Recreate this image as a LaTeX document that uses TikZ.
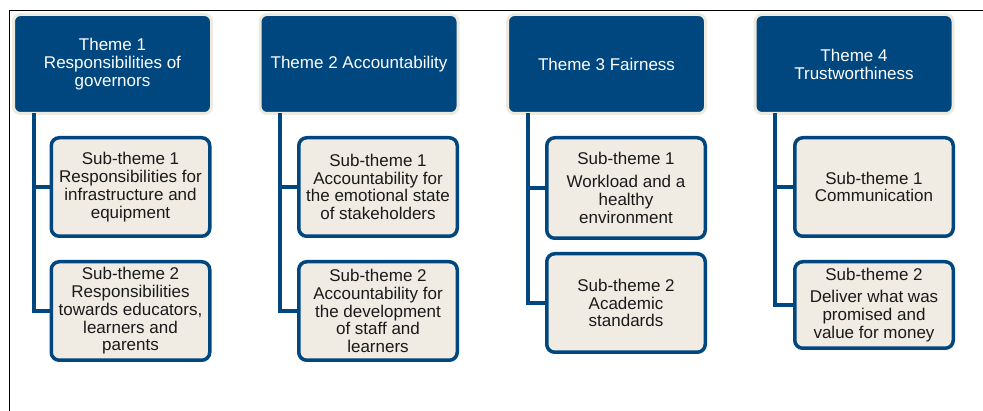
\documentclass[tikz,border=0pt]{standalone}
\usepackage{fontspec}
\setmainfont{Liberation Sans}
\usetikzlibrary{calc}
\definecolor{navy}{HTML}{00467F}
\definecolor{creamfill}{HTML}{F0ECE4}
\definecolor{creamedge}{HTML}{EDEADF}
\definecolor{inktext}{HTML}{1A1A1A}
\begin{document}
\begin{tikzpicture}[x=1pt,y=-1pt,
  theme/.style={draw=creamedge, line width=3pt, fill=navy, rounded corners=7pt,
    minimum width=198pt, minimum height=99pt, inner sep=0pt, outer sep=0pt,
    align=center, text=white, font=\fontsize{17}{18}\selectfont},
  subbox/.style={draw=navy, line width=3.5pt, fill=creamfill, rounded corners=8pt,
    minimum width=158.5pt, minimum height=98.5pt, inner sep=0pt, outer sep=0pt,
    align=center, text=inktext, font=\fontsize{17}{17.8}\selectfont},
  conn/.style={draw=navy, line width=4pt}]
\useasboundingbox (0,0) rectangle (983,411);
\draw[black, line width=1pt] (9,411) -- (9,11) -- (983,11);

% themes
\node[theme] (t1) at (112.5,64) {Theme 1\\Responsibilities of\\governors};
\node[theme] (t2) at (359,64) {Theme 2 Accountability};
\node[theme] (t3) at (606.5,64) {Theme 3 Fairness};
\node[theme] (t4) at (854,64) {Theme 4\\Trustworthiness};

% connector anchors
\coordinate (c1) at ($(t1.south west)+(20,0)$);
\coordinate (c2) at ($(t2.south west)+(20,0)$);
\coordinate (c3) at ($(t3.south west)+(20,0)$);
\coordinate (c4) at ($(t4.south west)+(20,0)$);

% connectors (drawn first, boxes on top)
\path (130.5,187) coordinate (p11) (130.5,311) coordinate (p12)
      (378,187) coordinate (p21) (378,311) coordinate (p22)
      (626,188) coordinate (p31) (626,303) coordinate (p32)
      (874,187) coordinate (p41) (874,305) coordinate (p42);

% sub-themes
\node[subbox] (s11) at (p11) {Sub-theme 1\\Responsibilities for\\infrastructure and\\equipment};
\node[subbox] (s12) at (p12) {Sub-theme 2\\Responsibilities\\towards educators,\\learners and\\parents};
\node[subbox] (s21) at (p21) {Sub-theme 1\\Accountability for\\the emotional state\\of stakeholders};
\node[subbox] (s22) at (p22) {Sub-theme 2\\Accountability for\\the development\\of staff and\\learners};
\node[subbox, minimum height=100.5pt] (s31) at (p31) {Sub-theme 1\\[5pt]Workload and a\\healthy\\environment};
\node[subbox] (s32) at (p32) {Sub-theme 2\\Academic\\standards};
\node[subbox] (s41) at (p41) {Sub-theme 1\\Communication};
\node[subbox, minimum height=86.5pt] (s42) at (p42) {Sub-theme 2\\[5pt]Deliver what was\\promised and\\value for money};

% connectors
\draw[conn] (c1) |- (s11.west);
\draw[conn] (c1) |- (s12.west);
\draw[conn] (c2) |- (s21.west);
\draw[conn] (c2) |- (s22.west);
\draw[conn] (c3) |- (s31.west);
\draw[conn] (c3) |- (s32.west);
\draw[conn] (c4) |- (s41.west);
\draw[conn] (c4) |- (s42.west);
\end{tikzpicture}
\end{document}
